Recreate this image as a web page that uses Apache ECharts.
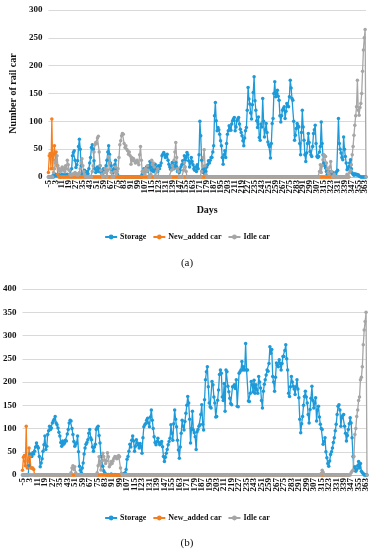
<!DOCTYPE html>
<html>
<head>
<meta charset="utf-8">
<script src="https://cdn.jsdelivr.net/npm/echarts@6/dist/echarts.min.js"></script>
<style>html,body{margin:0;padding:0;background:#fff;}#c{width:374px;height:550px;}</style>
</head>
<body>
<div id="c"></div>
<script>
// Categories: days -5 .. 364
const days = [];
for (let d = -5; d <= 364; d++) days.push(String(d));
const seriesNames = ['Storage', 'New_added car', 'Idle car'];

// ---- Chart (a) ----
const storageA = [
0,0,0,0,0,2,0,3,5,2,
3,5,2,4,0,2,5,3,2,4,
3,2,5,3,2,4,3,15,38,44,
47,30,17,22,29,55,68,50,20,5,
2,8,12,5,3,10,6,15,25,35,
53,58,50,29,15,8,12,18,10,15,
20,8,5,10,15,8,12,20,30,45,
56,41,25,20,12,8,15,22,30,15,
5,2,0,0,0,0,0,0,0,0,
0,0,0,0,0,0,0,0,0,0,
0,0,0,0,0,0,0,0,0,5,
10,15,8,12,18,10,20,15,28,18,
12,20,10,15,23,12,18,10,20,15,
20,25,38,41,44,40,35,38,41,30,
23,18,14,20,26,20,15,20,26,18,
10,14,8,12,18,22,29,25,38,30,
35,44,40,29,18,25,35,28,22,15,
12,18,10,22,15,40,100,74,30,12,
8,15,5,10,18,22,29,25,30,35,
35,45,56,110,134,101,83,89,85,77,
65,56,35,23,40,47,35,60,77,83,
92,88,84,95,101,104,107,83,90,101,
104,107,95,86,80,74,65,56,70,83,
89,120,161,140,131,115,104,130,152,180,
137,120,101,89,108,71,66,95,90,141,
100,72,85,96,80,63,58,55,34,60,
96,105,150,171,144,150,156,145,138,110,
99,110,120,123,126,105,118,132,128,126,
144,174,160,141,138,100,66,75,87,96,
92,90,60,40,80,120,90,66,40,28,
43,60,78,62,46,40,37,55,78,85,
93,60,37,35,37,45,55,99,60,40,
25,20,16,10,5,3,8,5,10,6,
4,8,5,3,6,10,12,105,60,50,
43,35,31,72,50,37,25,13,15,19,
25,31,15,7,5,3,6,4,5,3,
4,2,1,0,0,0,0,0,0,0
];
const newAddedA = [
8,38,42,15,104,15,40,56,30,45,
20,5,0,0,0,0,0,0,0,0,
0,0,0,0,0,0,0,0,0,0,0,0,0,0,0,0,0,0,0,0,
0,0,0,0,0,0,0,0,0,0,0,0,0,0,0,0,0,0,0,0,
0,0,0,0,0,0,0,0,0,0,0,0,0,0,0,0,0,0,0,0,
0,0,0,0,0,0,0,0,0,0,0,0,0,0,0,0,0,0,0,0,
0,0,0,0,0,0,0,0,0,0,0,0,0,0,0,0,0,0,0,0,
0,0,0,0,0,0,0,0,0,0,0,0,0,0,0,0,0,0,0,0,
0,0,0,0,0,0,0,0,0,0,0,0,0,0,0,0,0,0,0,0,
0,0,0,0,0,0,0,0,0,0,0,0,0,0,0,0,0,0,0,0,
0,0,0,0,0,0,0,0,0,0,0,0,0,0,0,0,0,0,0,0,
0,0,0,0,0,0,0,0,0,0,0,0,0,0,0,0,0,0,0,0,
0,0,0,0,0,0,0,0,0,0,0,0,0,0,0,0,0,0,0,0,
0,0,0,0,0,0,0,0,0,0,0,0,0,0,0,0,0,0,0,0,
0,0,0,0,0,0,0,0,0,0,0,0,0,0,0,0,0,0,0,0,
0,0,0,0,0,0,0,0,0,0,0,0,0,0,0,0,0,0,0,0,
0,0,0,0,0,0,0,0,0,0,0,0,0,0,0,0,0,0,0,0,
0,0,0,0,0,0,0,0,0,0,0,0,0,0,0,0,0,0,0,0,
0,0,0,0,0,0,0,0,0,0
];
const idleA = [
0,0,0,0,0,0,8,15,25,30,
38,20,12,15,10,14,18,12,16,10,
20,15,30,22,12,5,3,5,4,6,
5,8,4,6,3,5,8,15,25,33,
20,10,5,0,0,0,0,0,0,0,
0,10,20,45,58,62,60,70,73,45,
20,12,5,0,0,8,15,10,0,12,
37,25,15,8,0,0,0,10,18,5,
10,15,35,58,65,74,78,77,60,53,
56,50,47,41,45,38,23,35,29,33,
29,25,26,30,26,22,40,55,30,10,
8,12,5,15,10,20,12,0,0,5,
30,22,25,18,0,0,10,15,0,0,
0,0,0,0,0,0,0,0,0,0,
0,0,0,12,20,15,30,45,62,35,
15,10,0,0,0,0,0,12,26,18,
10,0,0,0,0,0,0,0,0,0,
0,0,0,0,0,0,0,0,10,20,
35,49,20,5,0,0,0,0,0,0,
0,0,0,0,0,0,0,0,0,0,0,0,0,0,0,0,0,0,0,0,
0,0,0,0,0,0,0,0,0,0,0,0,0,0,0,0,0,0,0,0,
0,0,0,0,0,0,0,0,0,0,0,0,0,0,0,0,0,0,0,0,
0,0,0,0,0,0,0,0,0,0,0,0,0,0,0,0,0,0,0,0,
0,0,0,0,0,0,0,0,0,0,0,0,0,0,0,0,0,0,0,0,
0,0,0,0,0,0,0,0,0,0,0,0,0,0,0,0,0,0,0,0,
0,0,0,0,0,10,22,8,20,31,
40,38,37,25,15,8,5,18,28,10,
0,0,5,0,0,0,0,0,0,0,
0,0,0,0,0,0,0,5,0,0,
8,12,22,40,55,75,93,110,126,174,
120,111,125,132,150,190,228,250,265,0
];

// ---- Chart (b) ----
const storageB = [
0,0,0,0,0,0,0,20,45,44,
40,48,45,51,60,69,62,58,40,18,
26,35,51,65,84,55,62,87,95,105,
98,101,112,116,120,126,112,108,101,92,
84,70,62,73,66,69,75,73,88,98,
112,118,116,100,87,72,62,66,69,84,
50,19,10,5,15,26,45,58,66,70,
76,90,98,80,76,60,51,60,66,98,
102,105,85,69,40,30,19,9,5,2,
0,0,1,0,0,2,0,0,0,1,
0,0,0,0,0,0,0,2,0,3,
5,12,34,40,51,66,60,75,84,73,
51,62,76,69,65,58,68,62,47,80,
104,108,111,118,122,112,104,125,140,118,
100,82,70,65,72,79,70,65,68,72,
61,40,29,38,47,55,65,72,79,108,
90,75,110,140,120,104,75,54,36,60,
90,118,105,97,115,133,150,169,155,120,
69,100,137,97,91,82,55,93,98,105,
108,130,151,109,97,162,205,222,233,190,
155,147,144,201,194,168,155,125,126,161,
183,216,226,219,168,160,197,137,226,222,
191,179,165,154,151,190,191,194,186,205,
148,147,219,222,226,244,226,233,226,283,
226,226,159,158,176,201,194,179,204,176,
194,183,176,212,200,187,160,144,180,195,
205,215,226,223,240,276,262,270,212,200,
180,210,241,236,233,248,240,226,240,255,
255,268,280,250,226,176,169,190,212,200,
191,185,173,190,205,185,166,120,91,110,
126,150,169,180,168,155,130,112,141,165,
191,160,144,155,166,116,140,148,125,109,
100,98,66,72,80,50,37,25,19,30,
44,50,58,70,80,95,109,130,148,151,
140,105,123,128,130,105,90,73,85,98,
110,123,112,80,40,10,18,8,12,20,
29,15,25,8,5,3,0,0,0,0
];
const newAddedB = [
10,38,42,20,105,15,30,58,40,15,
15,15,12,0,0,0,0,0,0,0,
0,0,0,0,0,0,0,0,0,0,0,0,0,0,0,0,0,0,0,0,
0,0,0,0,0,0,0,0,0,0,0,0,0,0,0,0,0,0,0,0,
0,0,0,0,0,0,0,0,0,0,0,0,0,0,0,0,0,0,0,0,
0,0,0,0,0,0,0,0,0,0,0,0,0,0,0,0,0,0,0,0,
0,0,0,0,0,0,0,0,0,0,0,0,0,0,0,0,0,0,0,0,
0,0,0,0,0,0,0,0,0,0,0,0,0,0,0,0,0,0,0,0,
0,0,0,0,0,0,0,0,0,0,0,0,0,0,0,0,0,0,0,0,
0,0,0,0,0,0,0,0,0,0,0,0,0,0,0,0,0,0,0,0,
0,0,0,0,0,0,0,0,0,0,0,0,0,0,0,0,0,0,0,0,
0,0,0,0,0,0,0,0,0,0,0,0,0,0,0,0,0,0,0,0,
0,0,0,0,0,0,0,0,0,0,0,0,0,0,0,0,0,0,0,0,
0,0,0,0,0,0,0,0,0,0,0,0,0,0,0,0,0,0,0,0,
0,0,0,0,0,0,0,0,0,0,0,0,0,0,0,0,0,0,0,0,
0,0,0,0,0,0,0,0,0,0,0,0,0,0,0,0,0,0,0,0,
0,0,0,0,0,0,0,0,0,0,0,0,0,0,0,0,0,0,0,0,
0,0,0,0,0,0,0,0,0,0,0,0,0,0,0,0,0,0,0,0,
0,0,0,0,0,0,0,0,0,0
];
const idleB = [
0,0,0,0,0,0,0,0,0,0,0,0,0,0,0,0,0,0,0,0,
0,0,0,0,0,0,0,0,0,0,0,0,0,0,0,0,0,0,0,0,
0,0,0,0,0,0,0,0,0,0,
0,0,5,15,20,12,18,5,0,0,
0,0,0,0,0,0,0,0,0,0,
0,0,0,0,0,0,0,0,0,0,
5,20,39,25,11,30,47,40,32,25,
30,48,39,18,22,29,25,30,36,40,
39,35,36,42,39,15,4,0,0,0,
0,0,0,0,0,0,0,0,0,0,0,0,0,0,0,0,0,0,0,0,
0,0,0,0,0,0,0,0,0,0,0,0,0,0,0,0,0,0,0,0,
0,0,0,0,0,0,0,0,0,0,0,0,0,0,0,0,0,0,0,0,
0,0,0,0,0,0,0,0,0,0,0,0,0,0,0,0,0,0,0,0,
0,0,0,0,0,0,0,0,0,0,0,0,0,0,0,0,0,0,0,0,
0,0,0,0,0,0,0,0,0,0,0,0,0,0,0,0,0,0,0,0,
0,0,0,0,0,0,0,0,0,0,0,0,0,0,0,0,0,0,0,0,
0,0,0,0,0,0,0,0,0,0,0,0,0,0,0,0,0,0,0,0,
0,0,0,0,0,0,0,0,0,0,0,0,0,0,0,0,0,0,0,0,
0,0,0,0,0,0,0,0,0,0,0,0,0,0,0,0,0,0,0,0,
0,0,0,0,0,0,0,0,0,0,
3,10,6,0,0,0,0,0,0,0,
0,0,0,0,0,0,0,0,0,0,
0,0,0,0,0,0,0,0,0,0,
0,0,5,8,10,40,87,100,126,140,
160,168,205,210,233,280,312,330,350,0
];

const colors = ['#1f9ad9', '#f47f20', '#a6a6a6'];
const serif = 'Liberation Serif';
const txt = '#111';

function xAxisCfg(gridIndex, withName) {
  const a = {
    type: 'category', gridIndex, data: days, boundaryGap: false,
    axisTick: { show: false },
    axisLine: { lineStyle: { color: '#bfbfbf' } },
    splitLine: { show: false },
    axisLabel: {
      interval: 0, hideOverlap: false,
      formatter: function (val, i) { return i % 8 === 0 ? val : ''; },
      rotate: 90, fontSize: 9, fontFamily: serif, fontWeight: 'bold', color: txt, margin: 3
    }
  };
  if (withName) {
    a.name = 'Days'; a.nameLocation = 'middle'; a.nameGap = 28;
    a.nameTextStyle = { fontSize: 10, fontFamily: serif, fontWeight: 'bold', color: txt };
  }
  return a;
}
function yAxisCfg(gridIndex, max, withName) {
  const a = {
    type: 'value', gridIndex, min: 0, max, interval: 50,
    axisLine: { show: false }, axisTick: { show: false },
    splitLine: { lineStyle: { color: '#d9d9d9', width: 1 } },
    axisLabel: { fontSize: 9, fontFamily: serif, fontWeight: 'bold', color: txt, margin: 6 }
  };
  if (withName) {
    a.name = 'Number of rail car'; a.nameLocation = 'middle'; a.nameGap = 19;
    a.nameTextStyle = { fontSize: 10, fontFamily: serif, fontWeight: 'bold', color: txt };
  }
  return a;
}
function lineSeries(name, data, idx, color) {
  return {
    type: 'line', name, data, xAxisIndex: idx, yAxisIndex: idx,
    symbol: 'circle', symbolSize: 3.5, showAllSymbol: true,
    lineStyle: { width: 1.3, color }, itemStyle: { color },
    emphasis: { disabled: true }, silent: true
  };
}
function legendCfg(top) {
  return {
    data: seriesNames, top, left: 'center', itemWidth: 12, itemHeight: 6, itemGap: 6,
    textStyle: { fontSize: 8, fontFamily: serif, fontWeight: 'bold', color: txt, padding: [0, 0, 0, -2] }
  };
}

const chart = echarts.init(document.getElementById('c'), null, { width: 374, height: 550 });
chart.setOption({
  animation: false,
  backgroundColor: '#fff',
  title: [
    { text: '(a)', left: 'center', top: 253, textStyle: { fontSize: 11, fontWeight: 'normal', fontFamily: serif, color: txt } },
    { text: '(b)', left: 'center', top: 533, textStyle: { fontSize: 11, fontWeight: 'normal', fontFamily: serif, color: txt } }
  ],
  legend: [legendCfg(228), legendCfg(509)],
  grid: [
    { left: 31, right: 8, top: 10, height: 167 },
    { left: 21, right: 7, top: 289, height: 186 }
  ],
  xAxis: [xAxisCfg(0, true), xAxisCfg(1, false)],
  yAxis: [yAxisCfg(0, 300, true), yAxisCfg(1, 400, false)],
  series: [
    lineSeries(seriesNames[0], storageA, 0, colors[0]),
    lineSeries(seriesNames[1], newAddedA, 0, colors[1]),
    lineSeries(seriesNames[2], idleA, 0, colors[2]),
    lineSeries(seriesNames[0], storageB, 1, colors[0]),
    lineSeries(seriesNames[1], newAddedB, 1, colors[1]),
    lineSeries(seriesNames[2], idleB, 1, colors[2])
  ]
});
</script>
</body>
</html>
